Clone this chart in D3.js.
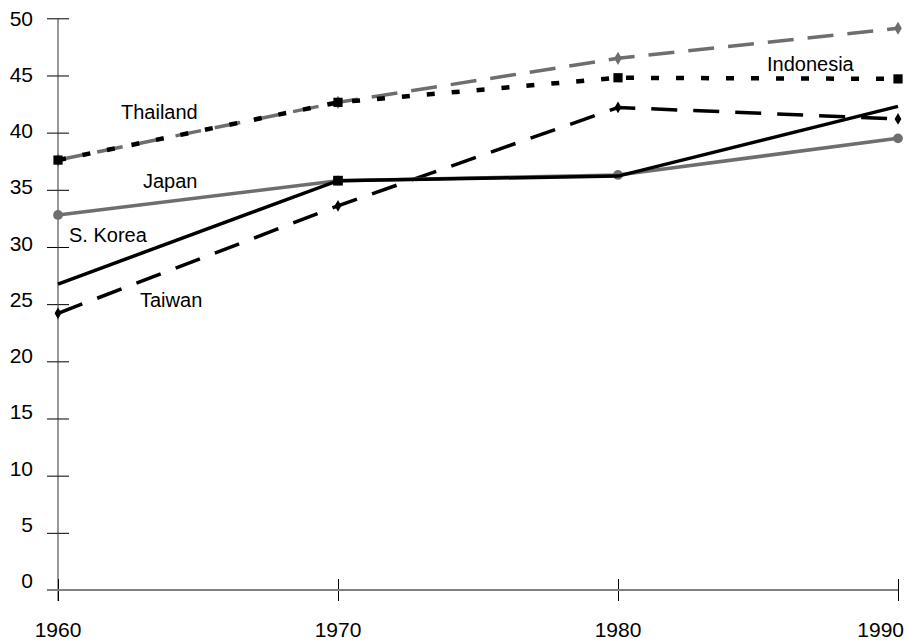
<!DOCTYPE html>
<html><head><meta charset="utf-8">
<script src="https://cdn.jsdelivr.net/npm/d3@7"></script>
<style>body{margin:0;background:#fff}svg{display:block}text{font-family:"Liberation Sans",Arial,sans-serif;font-size:20px;fill:#000}text.xlab,text.ylab{font-size:21px}</style>
</head><body><svg id="c" width="908" height="641"></svg>
<script>
const years = [1960, 1970, 1980, 1990];
const yTicks = [0, 5, 10, 15, 20, 25, 30, 35, 40, 45, 50];
const indonesia = [37.6, 42.65, 46.5, 49.13];
const thailand = [37.6, 42.65, 44.8, 44.7];
const japan = [32.8, 35.8, 36.3, 39.5];
const skorea = [26.76, 35.8, 36.2, 42.3];
const taiwan = [24.2, 33.6, 42.2, 41.2];
const seriesNames = ["Indonesia", "Thailand", "Japan", "S. Korea", "Taiwan"];

const svg = d3.select("#c");
const x = d3.scaleLinear().domain([1960, 1990]).range([58, 898]);
const y = d3.scaleLinear().domain([0, 50]).range([590, 18.3]);
const yLab = d3.scaleLinear().domain([0, 50]).range([588, 25.7]);

// axes
const yAxis = svg.append("g").attr("transform", `translate(${x(1960)},0)`)
  .call(d3.axisLeft(y).tickValues(yTicks).tickSize(11).tickFormat(""));
yAxis.select(".domain").remove();
yAxis.selectAll(".tick line").attr("x2", -11).attr("x1", 11).attr("stroke", "#000");
svg.append("line").attr("x1", x(1960)).attr("x2", x(1960)).attr("y1", y(50)).attr("y2", y(0) + 11)
  .attr("stroke", "#333").attr("stroke-width", 1);

const xAxis = svg.append("g").attr("transform", `translate(0,${y(0)})`)
  .call(d3.axisBottom(x).tickValues(years).tickSize(11).tickFormat(""));
xAxis.select(".domain").remove();
xAxis.selectAll(".tick line").attr("y1", -11).attr("y2", 11).attr("stroke", "#000");
svg.append("line").attr("x1", x(1960) - 11).attr("x2", x(1990)).attr("y1", y(0)).attr("y2", y(0))
  .attr("stroke", "#808080").attr("stroke-width", 2);

svg.selectAll(".ylab").data(yTicks).join("text").attr("class", "ylab")
  .attr("x", 33).attr("y", d => yLab(d)).attr("text-anchor", "end").text(d => d);
svg.selectAll(".xlab").data(years).join("text").attr("class", "xlab")
  .attr("x", (d, i) => i === years.length - 1 ? 904 : x(d))
  .attr("y", 637).attr("text-anchor", (d, i) => i === years.length - 1 ? "end" : "middle")
  .text(d => d);

const line = d3.line().x((d, i) => x(years[i])).y(d => y(d));
function drawLine(vals, color, width, dash) {
  svg.append("path").attr("d", line(vals)).attr("fill", "none").attr("stroke", color)
    .attr("stroke-width", width).attr("stroke-dasharray", dash || null);
}
function drawMarkers(vals, type, size, color, idx) {
  const sym = d3.symbol().type(type).size(size);
  svg.selectAll(null).data(idx || vals.map((d, i) => i)).join("path")
    .attr("d", sym).attr("fill", color)
    .attr("transform", i => `translate(${x(years[i])},${y(vals[i])})`);
}

// Indonesia (grey dashed, diamonds)
drawLine(indonesia, "#6e6e6e", 3.5, "26,14");
drawMarkers(indonesia, d3.symbolDiamond, 50, "#6e6e6e");
// Thailand (black dotted, squares)
drawLine(thailand, "#000", 4.5, "8,17");
drawMarkers(thailand, d3.symbolSquare, 85, "#000");
// Taiwan (black dashed, small diamonds)
drawLine(taiwan, "#000", 3.5, "26,16");
drawMarkers(taiwan, d3.symbolDiamond, 40, "#000");
// Japan (grey solid, circles)
drawLine(japan, "#6e6e6e", 3.5);
drawMarkers(japan, d3.symbolCircle, 75, "#6e6e6e");
// S. Korea (black solid, square at 1970)
drawLine(skorea, "#000", 3.5);
drawMarkers(skorea, d3.symbolSquare, 95, "#000", [1]);

// series labels
const labels = [
  {name: seriesNames[0], x: 767, y: 70.7},
  {name: seriesNames[1], x: 121, y: 119},
  {name: seriesNames[2], x: 143, y: 188},
  {name: seriesNames[3], x: 69, y: 242},
  {name: seriesNames[4], x: 140, y: 307}
];
svg.selectAll(".slab").data(labels).join("text").attr("class", "slab")
  .attr("x", d => d.x).attr("y", d => d.y).text(d => d.name);
</script></body></html>
